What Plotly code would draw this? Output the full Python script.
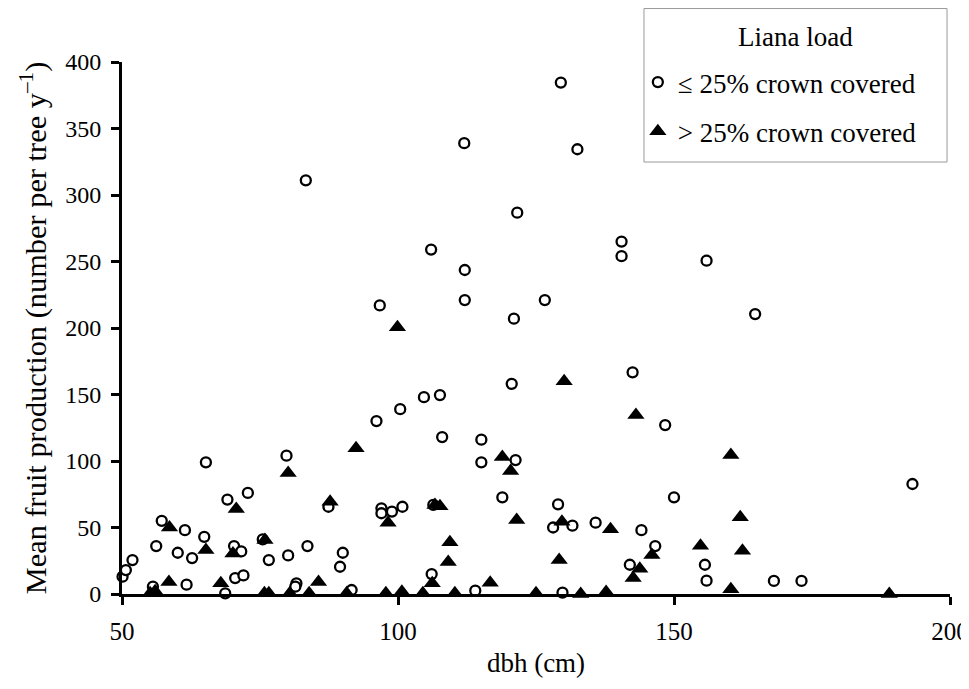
import plotly.graph_objects as go

# ≤ 25% crown covered (open circles)
low_dbh = [50.1, 50.7, 51.9, 56.2, 57.2, 55.6, 61.4, 60.1, 62.7, 61.7, 64.9, 65.2, 69.1, 68.7,
           72.8, 70.3, 71.6, 70.5, 72.0, 75.5, 76.6, 79.8, 80.1, 83.6, 81.6, 81.4, 90.0, 89.5,
           91.6, 87.4, 96.1, 100.4, 104.7, 107.6, 108.0, 97.0, 97.0, 98.9, 100.8, 106.4, 115.1,
           115.1, 118.9, 120.6, 121.3, 106.1, 114.0, 148.4, 150.0, 129.0, 128.1, 131.6, 135.8,
           144.1, 146.6, 142.0, 155.6, 155.9, 129.8, 193.2, 168.1, 173.1, 83.3, 96.7, 106.0,
           112.1, 112.1, 112.0, 129.5, 132.5, 121.6, 140.5, 140.5, 155.9, 126.6, 121.0, 164.7,
           142.5]
low_fruit = [13, 18, 25.5, 36, 55, 5.5, 48, 31, 27, 7, 43, 99, 71, 0.5,
             76, 36, 32, 12, 14, 41, 25.5, 104, 29, 36, 8, 5.5, 31, 20.5,
             3, 65.6, 130, 139, 148, 149.6, 118, 64.4, 60.7, 62, 65.6, 67, 116,
             99, 72.7, 158, 100.7, 15, 2.5, 127, 72.7, 67.4, 50, 51.4, 53.6,
             48, 36, 22, 22, 10, 1, 82.7, 9.8, 9.8, 311, 217, 259,
             243.6, 221, 339, 384.5, 334.4, 286.7, 265, 254, 250.6, 221, 207, 210.5,
             166.7]

# > 25% crown covered (filled triangles)
high_dbh = [55.1, 56.0, 58.6, 58.5, 65.2, 67.9, 70.7, 70.1, 75.9, 75.8, 76.6, 80.1, 80.4, 83.9,
            85.6, 87.7, 92.4, 90.7, 97.8, 100.7, 104.5, 110.3, 98.2, 107.6, 106.7, 109.4,
            109.1, 106.2, 116.7, 118.9, 120.4, 121.5, 99.9, 130.1, 143.1, 160.3, 129.7, 138.5,
            129.2, 162.0, 162.4, 154.8, 146.0, 143.8, 142.6, 125.0, 133.1, 137.7, 160.3, 189.0]
high_fruit = [0.5, 2, 50, 9, 33, 8, 64, 30.5, 40.6, 0.5, 0.5, 91, 0.5, 0.5,
              9, 69.4, 109.5, 0.5, 0.5, 1.7, 0.5, 0.5, 53.6, 66, 67, 39,
              24, 8, 8.5, 103, 92.5, 55.6, 200.5, 160, 134.6, 104.5, 54.4, 48.6,
              25.6, 57.7, 32.6, 36.3, 29.3, 19, 12, 0.5, 0, 1.5, 3.5, 0]

x_ticks = [50, 100, 150, 200]
y_ticks = [0, 50, 100, 150, 200, 250, 300, 350, 400]
legend_title = "Liana load"

FAMILY = "Liberation Serif"


def f(size):
    return dict(family=FAMILY, size=size, color="black")


fig = go.Figure()
fig.add_trace(go.Scatter(
    x=low_dbh, y=low_fruit, mode="markers", name="≤ 25% crown covered",
    legendgroup="a",
    marker=dict(symbol="circle", size=10, color="white",
                line=dict(color="black", width=2.3)),
    cliponaxis=False,
))
fig.add_trace(go.Scatter(
    x=high_dbh, y=high_fruit, mode="markers", name="> 25% crown covered",
    legendgroup="b",
    marker=dict(symbol="triangle-up", size=15, color="black",
                line=dict(color="black", width=0)),
    cliponaxis=False,
))

# legend frame and title
fig.add_shape(type="rect", xref="paper", yref="paper",
              x0=0.6304, x1=0.9964, y0=0.812, y1=1.1005,
              line=dict(color="#999999", width=1), fillcolor="white", layer="below")
fig.add_annotation(text=legend_title, xref="paper", yref="paper",
                   x=0.8134, y=1.047, xanchor="center", yanchor="middle",
                   showarrow=False, font=f(27))

fig.update_layout(
    template="none",
    width=961, height=681,
    margin=dict(l=114, r=19, t=54, b=95, autoexpand=False),
    paper_bgcolor="white", plot_bgcolor="rgba(0,0,0,0)",
    font=f(24),
    showlegend=True,
    legend=dict(
        x=0.623, y=1.0075, xanchor="left", yanchor="top",
        borderwidth=0, bgcolor="rgba(0,0,0,0)",
        font=f(27), tracegroupgap=11, itemwidth=30,
    ),
    xaxis=dict(
        range=[50, 200], tickvals=x_ticks, ticks="outside", ticklen=8,
        tickwidth=2.5, tickcolor="black", showline=True, linecolor="black",
        linewidth=2.8, showgrid=False, zeroline=False, automargin=False,
        tickfont=f(25), ticklabelstandoff=5,
        title=dict(text="dbh (cm)", font=f(27), standoff=10),
    ),
    yaxis=dict(
        range=[0, 400], tickvals=y_ticks, ticks="outside", ticklen=8,
        tickwidth=2.5, tickcolor="black", showline=True, linecolor="black",
        linewidth=2.8, showgrid=False, zeroline=False, automargin=False,
        tickfont=f(24), ticklabelstandoff=5,
        title=dict(text="Mean fruit production (number per tree y<sup>–1</sup>)",
                   font=f(30.4), standoff=10),
    ),
)

fig.write_html("out.html")
